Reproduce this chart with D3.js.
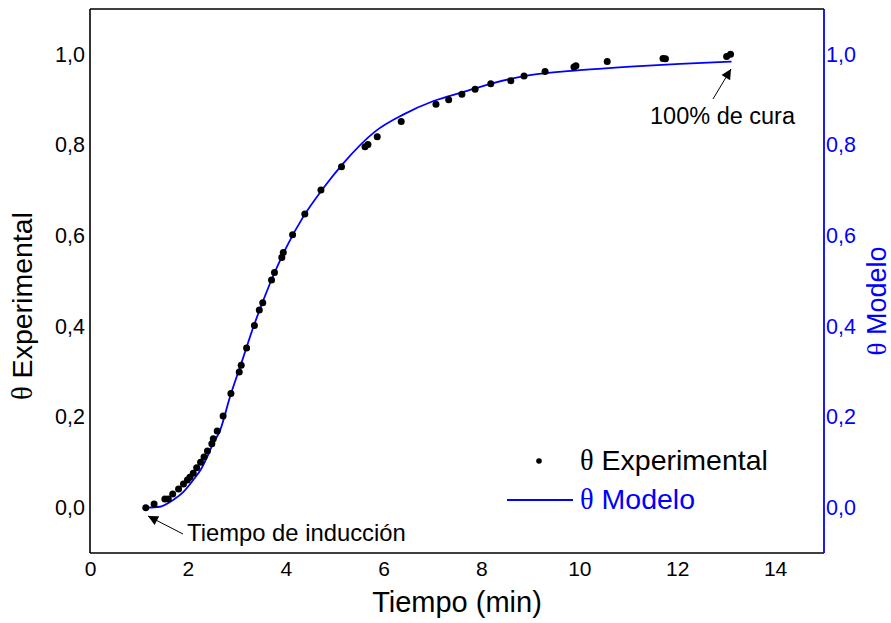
<!DOCTYPE html>
<html><head><meta charset="utf-8">
<script src="https://cdn.jsdelivr.net/npm/d3@7"></script>
<style>body{margin:0;background:#fff}svg{display:block}</style>
</head><body>
<svg id="c" width="891" height="623"></svg>
<script>
const expT = [1.14,1.31,1.53,1.60,1.69,1.81,1.91,1.99,2.04,2.11,2.18,2.26,2.33,2.40,2.49,2.52,2.60,2.72,2.88,3.05,3.09,3.20,3.36,3.46,3.53,3.71,3.77,3.92,3.95,4.14,4.39,4.72,5.14,5.62,5.68,5.87,6.36,7.07,7.33,7.60,7.87,8.19,8.60,8.87,9.30,9.89,9.93,10.57,11.71,11.76,13.01,13.09];
const expV = [0.000,0.008,0.019,0.019,0.030,0.041,0.052,0.061,0.067,0.076,0.088,0.100,0.112,0.125,0.141,0.152,0.169,0.202,0.252,0.299,0.314,0.352,0.402,0.436,0.452,0.502,0.519,0.552,0.563,0.602,0.648,0.701,0.752,0.796,0.801,0.818,0.852,0.890,0.900,0.912,0.923,0.935,0.942,0.952,0.962,0.972,0.975,0.984,0.991,0.990,0.995,1.000];
const modelT = [1.15,1.43,1.70,1.91,2.11,2.28,2.42,2.49,2.66,2.86,3.10,3.34,3.68,4.02,4.36,4.77,5.18,5.83,6.40,7.02,7.63,8.18,8.99,10.01,11.04,12.06,13.11];
const modelV = [0.000,0.002,0.017,0.035,0.061,0.087,0.118,0.136,0.171,0.244,0.321,0.399,0.495,0.576,0.642,0.705,0.760,0.830,0.867,0.897,0.917,0.935,0.954,0.965,0.973,0.979,0.984];
const xTicks = [0,2,4,6,8,10,12,14];
const yTicks = [0,0.2,0.4,0.6,0.8,1.0];

const svg = d3.select("#c");
const L=90,R=824,T=9,B=553;
const x = d3.scaleLinear().domain([0,15]).range([L,R]);
const y = d3.scaleLinear().domain([-0.1,1.1]).range([B,T]);
const font = "'Liberation Sans', Arial, sans-serif";
const fmt = v => d3.format(".1f")(v).replace(".", ",");

// data
svg.append("path")
  .datum(modelT.map((t,i)=>[t,modelV[i]]))
  .attr("d", d3.line().x(d=>x(d[0])).y(d=>y(d[1])).curve(d3.curveMonotoneX))
  .attr("fill","none").attr("stroke","#0000ff").attr("stroke-width",1.8);
svg.append("g").selectAll("circle").data(expT.map((t,i)=>[t,expV[i]])).join("circle")
  .attr("cx",d=>x(d[0])).attr("cy",d=>y(d[1])).attr("r",3.5).attr("fill","#000");

// axes
const ax = svg.append("g").attr("font-family",font);
const bottom = ax.append("g").attr("transform",`translate(0,${B})`).call(d3.axisBottom(x).tickValues(xTicks).tickSize(0).tickPadding(8).tickFormat(d3.format("d")));
bottom.select(".domain").remove();
bottom.selectAll("text").attr("font-size",21).attr("fill","#000").attr("font-family",font);
const left = ax.append("g").attr("transform",`translate(${L},0)`).call(d3.axisLeft(y).tickValues(yTicks).tickSize(0).tickPadding(5).tickFormat(fmt));
left.select(".domain").remove();
left.selectAll("text").attr("font-size",21.5).attr("fill","#000").attr("font-family",font);
const right = ax.append("g").attr("transform",`translate(${R},0)`).call(d3.axisRight(y).tickValues(yTicks).tickSize(0).tickPadding(2).tickFormat(fmt));
right.select(".domain").remove();
right.selectAll("text").attr("font-size",21.5).attr("fill","#0000ff").attr("font-family",font);

// frame
svg.append("line").attr("x1",L).attr("x2",R).attr("y1",T).attr("y2",T).attr("stroke","#000").attr("stroke-width",1.6);
svg.append("line").attr("x1",L).attr("x2",R).attr("y1",B).attr("y2",B).attr("stroke","#000").attr("stroke-width",1.6);
svg.append("line").attr("x1",L).attr("x2",L).attr("y1",T).attr("y2",B).attr("stroke","#000").attr("stroke-width",1.6);
svg.append("line").attr("x1",R).attr("x2",R).attr("y1",T).attr("y2",B).attr("stroke","#0000ff").attr("stroke-width",1.8);

// titles
svg.append("text").attr("x",457).attr("y",612).attr("text-anchor","middle").attr("font-family",font).attr("font-size",29).attr("fill","#000").text("Tiempo (min)");
const lt = svg.append("text").attr("transform","translate(32,306) rotate(-90)").attr("text-anchor","middle").attr("font-family",font).attr("font-size",28.5).attr("fill","#000");
lt.append("tspan").attr("font-family","'Liberation Serif', serif").text("θ");
lt.append("tspan").text(" Experimental");
const rt = svg.append("text").attr("transform","translate(886,301) rotate(-90)").attr("text-anchor","middle").attr("font-family",font).attr("font-size",27).attr("fill","#0000ff");
rt.append("tspan").attr("font-family","'Liberation Serif', serif").text("θ");
rt.append("tspan").text(" Modelo");

// legend
svg.append("circle").attr("cx",539).attr("cy",461).attr("r",2.8).attr("fill","#000");
const l1 = svg.append("text").attr("x",580).attr("y",470).attr("font-family",font).attr("font-size",28.5).attr("fill","#000");
l1.append("tspan").attr("font-family","'Liberation Serif', serif").text("θ");
l1.append("tspan").text(" Experimental");
svg.append("line").attr("x1",507).attr("x2",573).attr("y1",500).attr("y2",500).attr("stroke","#0000ff").attr("stroke-width",1.8);
const l2 = svg.append("text").attr("x",580).attr("y",509).attr("font-family",font).attr("font-size",28.5).attr("fill","#0000ff");
l2.append("tspan").attr("font-family","'Liberation Serif', serif").text("θ");
l2.append("tspan").text(" Modelo");

// annotations
const defs = svg.append("defs");
defs.append("marker").attr("id","ah").attr("viewBox","0 0 10 10").attr("refX",10).attr("refY",5)
  .attr("markerWidth",14).attr("markerHeight",10).attr("markerUnits","userSpaceOnUse").attr("orient","auto")
  .append("path").attr("d","M0,0 L10,5 L0,10 Z").attr("fill","#000");
svg.append("line").attr("x1",183).attr("y1",534).attr("x2",148).attr("y2",516).attr("stroke","#000").attr("stroke-width",1).attr("marker-end","url(#ah)");
svg.append("text").attr("x",187).attr("y",541).attr("font-family",font).attr("font-size",23.8).attr("fill","#000").text("Tiempo de inducción");
svg.append("line").attr("x1",713).attr("y1",99).attr("x2",731).attr("y2",69).attr("stroke","#000").attr("stroke-width",1).attr("marker-end","url(#ah)");
svg.append("text").attr("x",650).attr("y",124).attr("font-family",font).attr("font-size",23.5).attr("fill","#000").text("100% de cura");
</script>
</body></html>
